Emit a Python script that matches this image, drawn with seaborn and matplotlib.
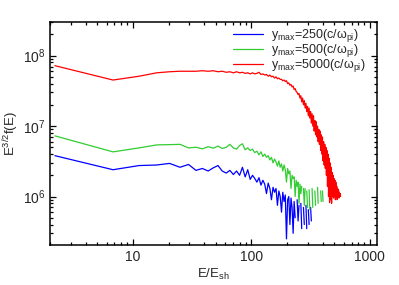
import numpy as np
import matplotlib
matplotlib.use("Agg")
import matplotlib.pyplot as plt
from matplotlib.lines import Line2D
import pandas as pd
import seaborn as sns

nan = np.nan

# energy bins (E/E_sh)
energy = [2.2, 6.8, 11.3, 15.9, 20.4, 25.0, 29.5, 34.1, 38.6, 43.2,
          47.7, 52.3, 56.8, 61.4, 65.9, 70.5, 75.0, 79.6, 84.1, 88.7,
          93.2, 97.8, 102.3, 106.9, 111.4, 116.0, 120.5, 125.1, 129.6, 134.2,
          138.7, 143.3, 147.8, 152.4, 156.9, 161.5, 166.0, 170.6, 175.1, 179.7,
          184.2, 188.8, 193.3, 197.9, 202.4, 207.0, 211.5, 216.1, 220.6, 225.2,
          229.7, 234.3, 238.8, 243.4, 247.9, 252.5, 257.0, 261.6, 266.1, 270.7,
          275.2, 279.8, 284.3, 288.9, 293.4, 298.0, 302.5, 307.1, 311.6, 316.2,
          320.7, 325.3, 329.8, 334.4, 338.9, 343.5, 348.0, 352.6, 357.1, 361.7,
          366.2, 370.8, 375.3, 379.9, 384.4, 389.0, 393.5, 398.1, 402.6, 407.2,
          411.7, 416.3, 420.8, 425.4, 429.9, 434.5, 439.0, 443.6, 448.1, 452.7,
          457.2, 461.8, 466.3, 470.9, 475.4, 480.0, 484.5, 489.1, 493.6, 498.2,
          502.7, 507.3, 511.8, 516.4, 520.9, 525.5, 530.0, 534.6, 539.1, 543.7,
          548.2, 552.8, 557.3, 561.9, 566.4, 571.0]

# E^{3/2} f(E), in units of 1e6 (nan = empty bin)
spec_250 = [3.8, 2.4, 2.75, 2.8, 2.95, 2.6, 2.85, 2.35, 2.5, 2.3,
            2.55, 2.75, 2.3, 2.15, 2.35, 2.05, 2.3, 2.0, 2.6, 1.9,
            2.4, 1.75, 2.0, 1.8, 1.6, 1.85, 1.45, 1.7, 1.5, 1.1,
            1.55, 1.3, 0.9, 1.35, 1.15, 1.3, 0.75, 1.2, 1.0, 0.6,
            1.15, 0.85, 1.05, 0.25, 0.9, 1.0, 0.4, 0.95, 0.7, 0.3,
            0.85, 0.5, nan, 0.9, 0.45, 0.75, nan, 0.8, 0.35, nan,
            0.7, 0.4, nan, 0.75, 0.35, nan, 0.65, 0.4, nan, 0.7,
            0.45]
spec_500 = [7.26, 4.3, 4.9, 5.4, 5.45, 5.5, 4.9, 5.0, 4.75, 5.1,
            4.85, 5.2, 4.8, 5.0, 5.5, 4.9, 4.7, 5.3, 5.6, 4.6,
            4.9, 4.5, 4.7, 4.2, 4.4, 3.9, 4.3, 3.7, 4.0, 3.6,
            3.8, 3.3, 3.6, 3.0, 3.4, 3.1, 2.7, 3.2, 2.6, 2.9,
            2.3, 2.8, 2.4, 1.6, 2.5, 2.1, 2.3, 1.3, 2.0, 1.8,
            1.9, 1.0, 1.7, 1.4, 1.6, 0.8, 1.5, 1.1, 1.4, nan,
            1.3, 0.75, 1.3, nan, 1.2, 0.7, nan, 1.25, 0.65, nan,
            nan, 1.3, 0.7, nan, nan, 1.2, 0.75, nan, nan, 1.35,
            0.8, nan, nan, nan, 1.2, 0.85, nan, 1.2, 0.85]
spec_5000 = [72, 45, 51, 57, 59, 60, 60, 60, 61, 60,
             61, 59, 60, 58, 59, 57, 59, 57, 58, 56,
             57, 55, 57, 55, 56, 58, 54, 55, 53, 54,
             51, 53, 50, 51, 48, 50, 47, 48, 46, 46,
             44, 45, 43, 44, 40, 41, 38, 39, 36, 37,
             33, 34, 31, 30, 28, 29, 25, 27, 22, 25,
             20, 23, 18, 21, 16, 19, 14, 18, 13, 16,
             11, 15, 10, 14, 8.5, 12, 7.5, 11.5, 7, 10,
             6, 9, 5.5, 8.5, 4.5, 7.5, 4, 7, 3.2, 6,
             2.8, 5.5, 2.5, 5, 2.0, 4.5, 1.4, 4, 1.0, 3.5,
             0.82, 3.0, 0.9, 2.6, 0.8, 2.2, 1.0, 2.0, 0.95, 1.8,
             1.0, 1.7, 0.9, 1.6, 1.0, 1.4, 0.9, 1.3, 1.0, 1.25,
             0.95, 1.15, 1.0, 1.1, 1.0]

labels = [r"y$_{\rm max}$=250(c/$\omega_{\rm pi}$)",
          r"y$_{\rm max}$=500(c/$\omega_{\rm pi}$)",
          r"y$_{\rm max}$=5000(c/$\omega_{\rm pi}$)"]
colors = ["#0000ff", "#33cc33", "#ff0000"]

sns.set_style("ticks")
plt.rcParams["font.family"] = ["Liberation Sans", "DejaVu Sans"]
plt.rcParams["mathtext.fontset"] = "custom"
plt.rcParams["mathtext.rm"] = "Liberation Sans"
plt.rcParams["mathtext.it"] = "Liberation Sans"
plt.rcParams["mathtext.bf"] = "Liberation Sans:bold"

fig = plt.figure(figsize=(3.99, 2.85), dpi=100)
ax = fig.add_axes([0.1253, 0.1404, 0.8197, 0.7824])

for spec, col in zip([spec_250, spec_500, spec_5000], colors):
    df = pd.DataFrame({"E": energy[:len(spec)], "y": np.array(spec) * 1e6})
    # break the line where bins are empty
    df["seg"] = df["y"].isna().cumsum()
    df = df.dropna()
    sns.lineplot(data=df, x="E", y="y", units="seg", estimator=None,
                 color=col, lw=0.9, ax=ax, legend=False)

ax.set_xscale("log")
ax.set_yscale("log")
ax.set_xlim(2.0, 1150)
ax.set_ylim(2.05e5, 3e8)
ax.set_xticks([10, 100, 1000])
ax.set_xticklabels(["10", "100", "1000"])
ax.set_xlabel(r"E/E$_{\rm sh}$", fontsize=9.5, labelpad=2)
ax.set_ylabel(r"E$^{3/2}$f(E)", fontsize=9.5, labelpad=1)

for s in ax.spines.values():
    s.set_visible(True)
    s.set_color("black")
    s.set_linewidth(1.1)
ax.tick_params(which="both", direction="in", top=True, right=True,
               labelsize=10, width=0.9, color="black")
ax.tick_params(which="major", length=4.5)
ax.tick_params(which="minor", length=2.2)

handles = [Line2D([], [], color=c, lw=0.9) for c in colors]
ax.legend(handles, labels, loc="upper right", frameon=False, fontsize=9,
          handlelength=2.4, handletextpad=0.6, labelspacing=-0.15,
          borderaxespad=0.0, bbox_to_anchor=(0.98, 1.0))

fig.savefig("out.png", dpi=100)
